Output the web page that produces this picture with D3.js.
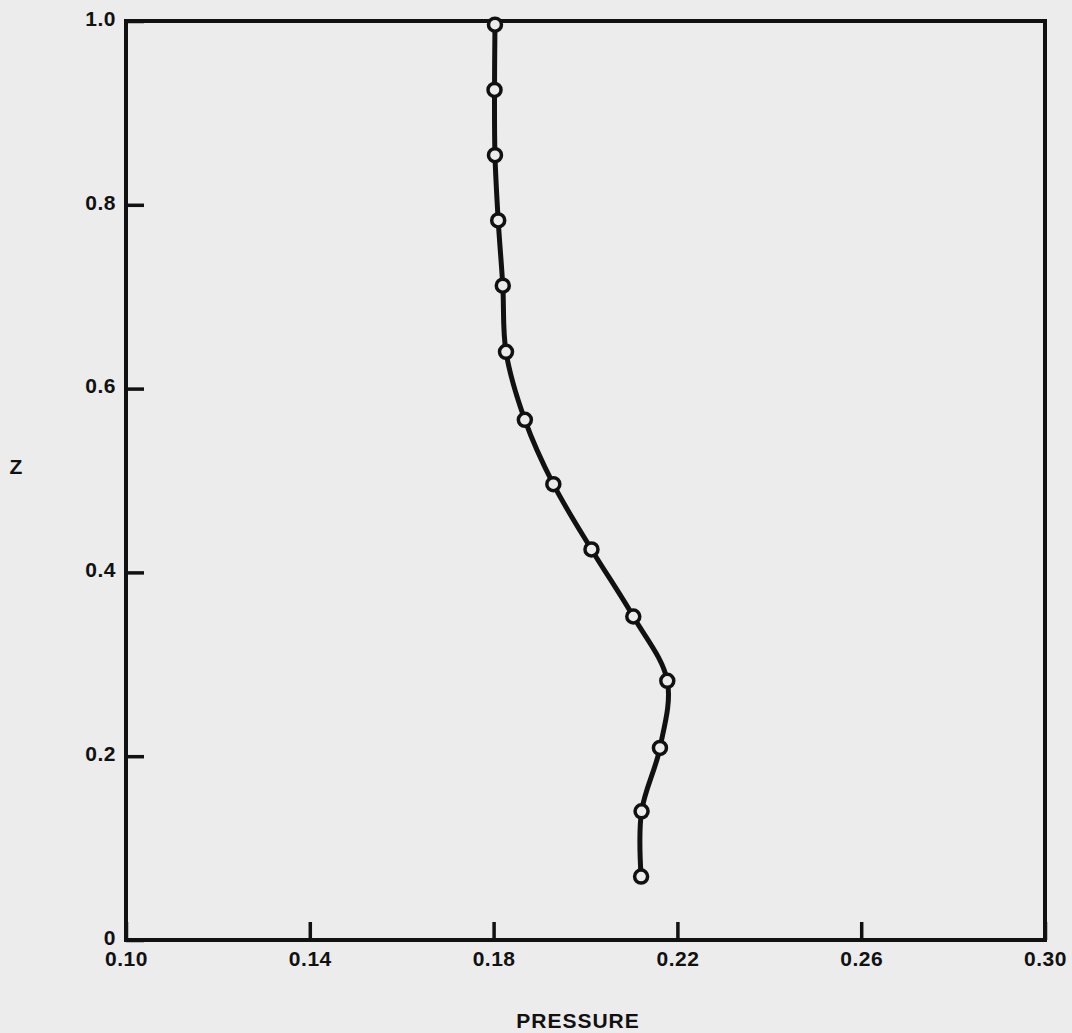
<!DOCTYPE html>
<html>
<head>
<meta charset="utf-8">
<script src="https://cdn.jsdelivr.net/npm/d3@7"></script>
<style>
  body { margin: 0; background: #ececec; }
  svg { display: block; }
  .axis text { font-family: "Liberation Sans", Arial, sans-serif; font-weight: bold; font-size: 21px; fill: #111; }
  .lbl { font-family: "Liberation Sans", Arial, sans-serif; font-weight: bold; font-size: 21px; fill: #111; }
</style>
</head>
<body>
<svg id="chart" width="1072" height="1033"></svg>
<script>
// pressure profile
var pressure = [0.2121, 0.2122, 0.2162, 0.2178, 0.2104, 0.2013, 0.1930, 0.1868, 0.1827, 0.1820, 0.1810, 0.1803, 0.1802, 0.1803];
var zVals    = [0.069, 0.140, 0.209, 0.282, 0.352, 0.425, 0.496, 0.566, 0.640, 0.712, 0.783, 0.854, 0.925, 0.996];
var xTicks = [0.10, 0.14, 0.18, 0.22, 0.26, 0.30];
var yTicks = [0, 0.2, 0.4, 0.6, 0.8, 1.0];

var svg = d3.select("svg#chart");
var margin = {top: 21, right: 27, bottom: 93, left: 126};
var width = +svg.attr("width") - margin.left - margin.right,
    height = +svg.attr("height") - margin.top - margin.bottom;
var g = svg.append("g").attr("transform", "translate(" + margin.left + "," + margin.top + ")");

var x = d3.scaleLinear().domain([0.10, 0.30]).range([0, width]);
var y = d3.scaleLinear().domain([0, 1]).range([height, 0]);

var data = pressure.map(function(p, i) { return {p: p, z: zVals[i]}; });

// axes with inward ticks
var xAxis = g.append("g")
    .attr("class", "axis")
    .attr("transform", "translate(0," + height + ")")
    .call(d3.axisBottom(x).tickValues(xTicks).tickSize(-18).tickPadding(11).tickFormat(d3.format(".2f")));

var yAxis = g.append("g")
    .attr("class", "axis")
    .call(d3.axisLeft(y).tickValues(yTicks).tickSize(-18).tickPadding(10)
      .tickFormat(function(d) { return d === 0 ? "0" : d3.format(".1f")(d); }));

g.selectAll(".axis .domain").remove();
g.selectAll(".axis line").attr("stroke", "#111").attr("stroke-width", 3.5);
yAxis.selectAll("text").attr("dy", "0.2em");
g.selectAll(".axis text").style("letter-spacing", "0.5px");

// frame
g.append("rect")
    .attr("width", width)
    .attr("height", height)
    .attr("fill", "none")
    .attr("stroke", "#111")
    .attr("stroke-width", 4);

var line = d3.line()
    .x(function(d) { return x(d.p); })
    .y(function(d) { return y(d.z); })
    .curve(d3.curveCatmullRom.alpha(0.5));

g.append("path")
    .datum(data)
    .attr("d", line)
    .attr("fill", "none")
    .attr("stroke", "#111")
    .attr("stroke-width", 5);

g.selectAll("circle")
    .data(data)
  .enter().append("circle")
    .attr("cx", function(d) { return x(d.p); })
    .attr("cy", function(d) { return y(d.z); })
    .attr("r", 6.5)
    .attr("fill", "#ececec")
    .attr("stroke", "#111")
    .attr("stroke-width", 3.5);

svg.append("text")
    .attr("class", "lbl")
    .attr("x", 578)
    .attr("y", 1028)
    .attr("text-anchor", "middle")
    .style("letter-spacing", "1px")
    .text("PRESSURE");

svg.append("text")
    .attr("class", "lbl")
    .attr("x", 16)
    .attr("y", 474)
    .attr("text-anchor", "middle")
    .text("Z");
</script>
</body>
</html>
